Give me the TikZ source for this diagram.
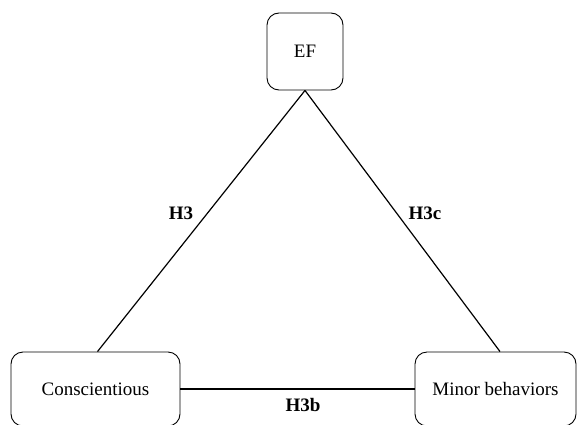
\documentclass[tikz,border=0pt]{standalone}
\usepackage{fontspec}
\setmainfont{Liberation Serif}
\begin{document}
\begin{tikzpicture}[x=1pt,y=1pt,
  box/.style={draw=black, line width=0.9pt, rounded corners=12pt, inner sep=0pt, font=\fontsize{19}{22}\selectfont},
  link/.style={draw=black, line width=1.2pt},
  lab/.style={font=\fontsize{19}{22}\selectfont\bfseries, inner sep=0pt}]
\useasboundingbox (0,0) rectangle (577,424);
\clip (0,0) rectangle (577,424);
\node[box, minimum width=76pt, minimum height=77pt] (EF) at (305,372.5) {EF};
\node[box, minimum width=169pt, minimum height=74pt] (C) at (95.5,35) {Conscientious};
\node[box, minimum width=161pt, minimum height=74pt] (M) at (495.5,35) {Minor behaviors};
\draw[link] (EF.south) -- ([xshift=2pt]C.north);
\draw[link] (EF.south) -- ([xshift=4.5pt]M.north);
\draw[link] (C.east) -- (M.west);
\node[lab] (h3) at (181,211) {H3};
\node[lab] (h3c) at (425,211) {H3c};
\node[lab] (h3b) at (303,19) {H3b};
\end{tikzpicture}
\end{document}
